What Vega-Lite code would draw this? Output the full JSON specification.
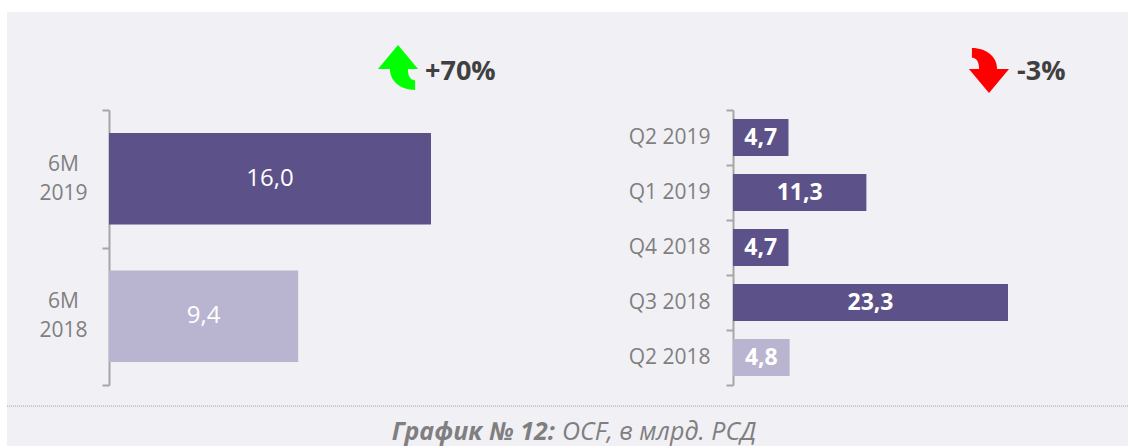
{
  "$schema": "https://vega.github.io/schema/vega-lite/v6.json",
  "width": 1121,
  "height": 434,
  "autosize": {"type": "none"},
  "padding": {"left": 7, "top": 12, "right": 0, "bottom": 0},
  "background": "#ffffff",
  "config": {
    "view": {"fill": "#f1f0f5", "stroke": null},
    "font": "Open Sans",
    "locale": {"number": {"decimal": ",", "thousands": " ", "grouping": [3], "currency": ["", ""]}}
  },
  "datasets": {
    "halfyear": [
      {"period": "6M 2019", "ocf": 16.0, "compare": "current"},
      {"period": "6M 2018", "ocf": 9.4, "compare": "base"}
    ],
    "quarter": [
      {"quarter": "Q2 2019", "ocf": 4.7, "compare": "current"},
      {"quarter": "Q1 2019", "ocf": 11.3, "compare": "current"},
      {"quarter": "Q4 2018", "ocf": 4.7, "compare": "current"},
      {"quarter": "Q3 2018", "ocf": 23.3, "compare": "current"},
      {"quarter": "Q2 2018", "ocf": 4.8, "compare": "base"}
    ],
    "notes": [
      {"label": "OCF"}
    ]
  },
  "resolve": {
    "scale": {"x": "independent", "y": "independent", "color": "independent"},
    "axis": {"x": "independent", "y": "independent"}
  },
  "layer": [
    {
      "data": {"name": "halfyear"},
      "resolve": {"scale": {"x": "independent"}, "axis": {"x": "independent"}},
      "encoding": {
        "y": {
          "field": "period", "type": "nominal", "sort": null,
          "scale": {"domain": ["6M 2019", "6M 2018"], "range": [98, 373], "paddingInner": 0, "paddingOuter": 0},
          "axis": {
            "orient": "left", "offset": -102, "title": null,
            "domainColor": "#a6a6a6", "domainWidth": 2,
            "tickColor": "#a6a6a6", "tickWidth": 2, "tickSize": 7, "tickBand": "extent",
            "labelExpr": "datum.value ? split(datum.value, ' ') : ''",
            "labelAlign": "center", "labelBaseline": "middle", "labelPadding": 39, "labelOffset": -14.5,
            "labelFontSize": 21, "labelColor": "#7f7f7f", "labelLineHeight": 29, "labelFont": "Open Sans"
          }
        }
      },
      "layer": [
        {
          "mark": {"type": "bar", "height": {"band": 0.667}},
          "encoding": {
            "x": {"field": "ocf", "type": "quantitative", "scale": {"domain": [0, 16], "range": [102, 424], "nice": false, "zero": true}, "axis": null},
            "color": {"field": "compare", "type": "nominal", "scale": {"domain": ["current", "base"], "range": ["#5c5189", "#b9b5d0"]}, "legend": null}
          }
        },
        {
          "mark": {"type": "text", "color": "#ffffff", "fontSize": 24, "baseline": "middle", "align": "center"},
          "encoding": {
            "x": {"field": "ocf", "type": "quantitative", "scale": {"domain": [0, 32], "range": [102, 424], "nice": false, "zero": true}, "axis": null},
            "text": {"field": "ocf", "type": "quantitative", "format": ".1f"}
          }
        }
      ]
    },
    {
      "data": {"name": "quarter"},
      "resolve": {"scale": {"x": "independent"}, "axis": {"x": "independent"}},
      "encoding": {
        "y": {
          "field": "quarter", "type": "nominal", "sort": null,
          "scale": {"domain": ["Q2 2019", "Q1 2019", "Q4 2018", "Q3 2018", "Q2 2018"], "range": [98, 373], "paddingInner": 0, "paddingOuter": 0},
          "axis": {
            "orient": "left", "offset": -726, "title": null,
            "domainColor": "#a6a6a6", "domainWidth": 2,
            "tickColor": "#a6a6a6", "tickWidth": 2, "tickSize": 7, "tickBand": "extent",
            "labelAlign": "right", "labelBaseline": "middle", "labelPadding": 16,
            "labelFontSize": 21, "labelColor": "#7f7f7f", "labelFont": "Open Sans"
          }
        }
      },
      "layer": [
        {
          "mark": {"type": "bar", "height": {"band": 0.673}},
          "encoding": {
            "x": {"field": "ocf", "type": "quantitative", "scale": {"domain": [0, 23.3], "range": [726, 1001], "nice": false, "zero": true}, "axis": null},
            "color": {"field": "compare", "type": "nominal", "scale": {"domain": ["current", "base"], "range": ["#5c5189", "#b9b5d0"]}, "legend": null}
          }
        },
        {
          "mark": {"type": "text", "color": "#ffffff", "fontSize": 23, "fontWeight": "bold", "baseline": "middle", "align": "center"},
          "encoding": {
            "x": {"field": "ocf", "type": "quantitative", "scale": {"domain": [0, 46.6], "range": [726, 1001], "nice": false, "zero": true}, "axis": null},
            "text": {"field": "ocf", "type": "quantitative", "format": ".1f"}
          }
        }
      ]
    },
    {
      "data": {"name": "notes"},
      "layer": [
        {
          "mark": {"type": "point", "shape": "M0,-1 L0.89,0.07 L0.44,0.07 C0.44,0.4 0.55,0.55 0.76,0.58 L0.76,1 C0.1,1 -0.36,0.6 -0.36,0.07 L-0.89,0.07 Z", "filled": true, "color": "#00ff00", "opacity": 1, "size": 2025, "strokeWidth": 0},
          "encoding": {
            "x": {"datum": 34.88, "type": "quantitative", "scale": {"domain": [0, 100], "range": [0, 1121], "nice": false, "zero": false}, "axis": null},
            "y": {"datum": 12.79, "type": "quantitative", "scale": {"domain": [0, 100], "range": [0, 434], "nice": false, "zero": false}, "axis": null}
          }
        },
        {
          "mark": {"type": "point", "shape": "M0,1 L-0.89,-0.07 L-0.44,-0.07 C-0.44,-0.4 -0.55,-0.55 -0.76,-0.58 L-0.76,-1 C-0.1,-1 0.36,-0.6 0.36,-0.07 L0.89,-0.07 Z", "filled": true, "color": "#ff0000", "opacity": 1, "size": 2025, "strokeWidth": 0},
          "encoding": {
            "x": {"datum": 87.6, "type": "quantitative", "scale": {"domain": [0, 100], "range": [0, 1121], "nice": false, "zero": false}, "axis": null},
            "y": {"datum": 13.48, "type": "quantitative", "scale": {"domain": [0, 100], "range": [0, 434], "nice": false, "zero": false}, "axis": null}
          }
        },
        {
          "mark": {"type": "text", "text": "+70%", "fontSize": 27, "fontWeight": "bold", "color": "#404040", "align": "left", "baseline": "middle"},
          "encoding": {
            "x": {"datum": 37.29, "type": "quantitative", "scale": {"domain": [0, 100], "range": [0, 1121], "nice": false, "zero": false}, "axis": null},
            "y": {"datum": 13.8, "type": "quantitative", "scale": {"domain": [0, 100], "range": [0, 434], "nice": false, "zero": false}, "axis": null}
          }
        },
        {
          "mark": {"type": "text", "text": "-3%", "fontSize": 27, "fontWeight": "bold", "color": "#404040", "align": "left", "baseline": "middle"},
          "encoding": {
            "x": {"datum": 90.1, "type": "quantitative", "scale": {"domain": [0, 100], "range": [0, 1121], "nice": false, "zero": false}, "axis": null},
            "y": {"datum": 13.8, "type": "quantitative", "scale": {"domain": [0, 100], "range": [0, 434], "nice": false, "zero": false}, "axis": null}
          }
        },
        {
          "mark": {"type": "rule", "color": "#a0a0a0", "strokeWidth": 1, "strokeDash": [1, 1]},
          "encoding": {
            "y": {"datum": 90.8, "type": "quantitative", "scale": {"domain": [0, 100], "range": [0, 434], "nice": false, "zero": false}, "axis": null}
          }
        },
        {
          "mark": {"type": "text", "text": "График № 12:", "fontSize": 25, "fontWeight": "bold", "fontStyle": "italic", "color": "#7f7f7f", "align": "right", "baseline": "middle"},
          "encoding": {
            "x": {"datum": 48.88, "type": "quantitative", "scale": {"domain": [0, 100], "range": [0, 1121], "nice": false, "zero": false}, "axis": null},
            "y": {"datum": 96.77, "type": "quantitative", "scale": {"domain": [0, 100], "range": [0, 434], "nice": false, "zero": false}, "axis": null}
          }
        },
        {
          "mark": {"type": "text", "text": "OCF, в млрд. РСД", "fontSize": 25, "fontStyle": "italic", "color": "#7f7f7f", "align": "left", "baseline": "middle"},
          "encoding": {
            "x": {"datum": 49.51, "type": "quantitative", "scale": {"domain": [0, 100], "range": [0, 1121], "nice": false, "zero": false}, "axis": null},
            "y": {"datum": 96.77, "type": "quantitative", "scale": {"domain": [0, 100], "range": [0, 434], "nice": false, "zero": false}, "axis": null}
          }
        }
      ]
    }
  ]
}
